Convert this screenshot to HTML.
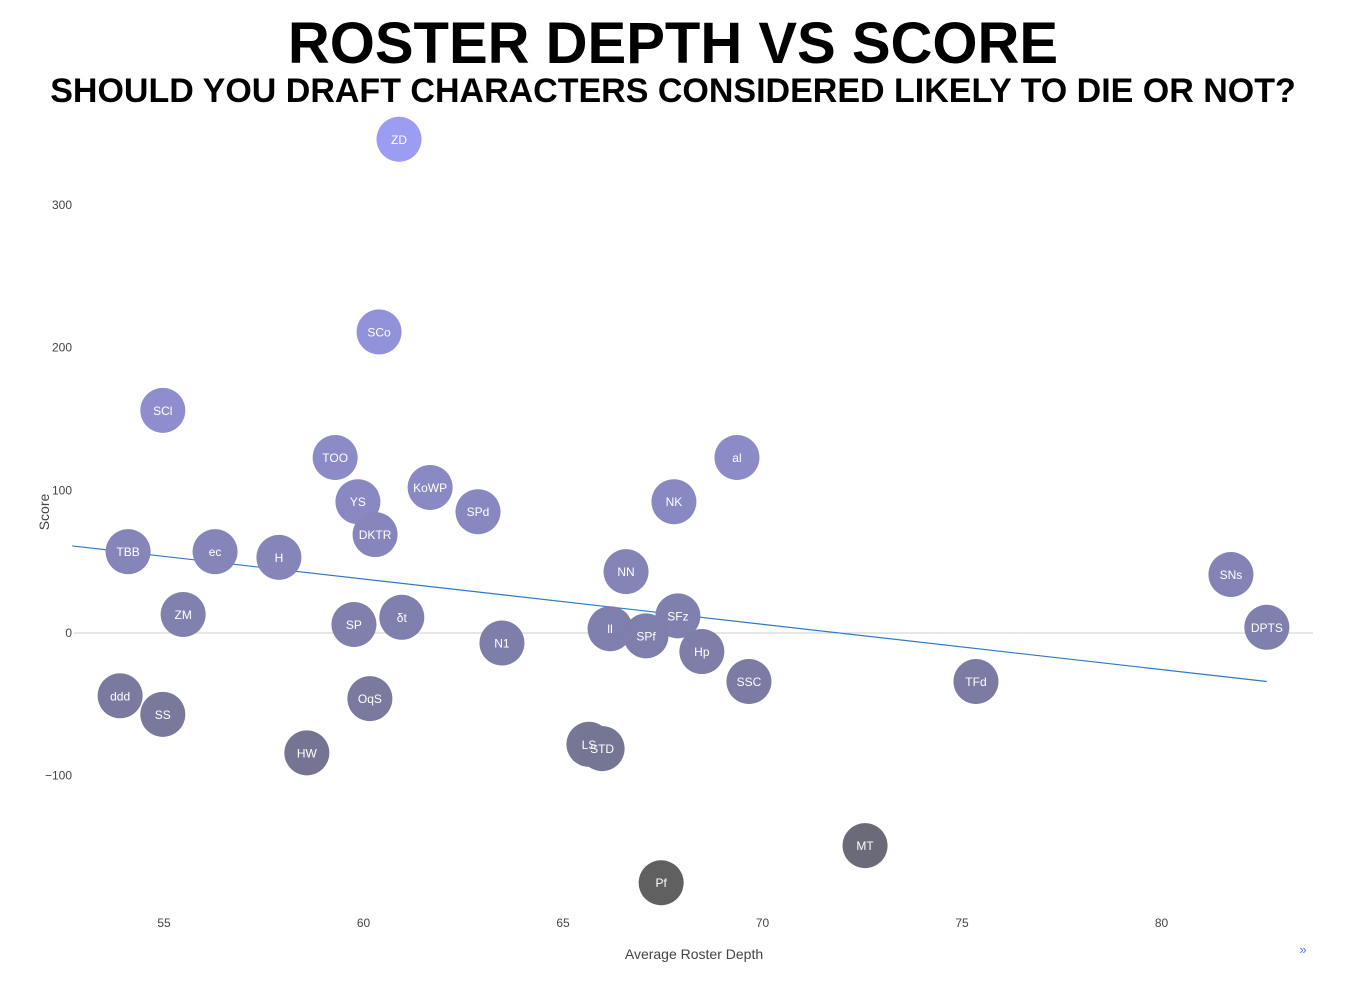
<!DOCTYPE html>
<html><head><meta charset="utf-8"><style>
body{margin:0;background:#fff;font-family:"Liberation Sans",sans-serif}
</style></head><body>
<svg id="chart" width="1346" height="977" xmlns="http://www.w3.org/2000/svg" font-family="Liberation Sans, DejaVu Sans, sans-serif">
<text x="673" y="63" text-anchor="middle" font-size="58" font-weight="bold" fill="#000">ROSTER DEPTH VS SCORE</text>
<text x="673" y="102" text-anchor="middle" font-size="34" font-weight="bold" fill="#000">SHOULD YOU DRAFT CHARACTERS CONSIDERED LIKELY TO DIE OR NOT?</text>
<text x="694" y="959" text-anchor="middle" font-size="14" fill="#444">Average Roster Depth</text>
<text x="49" y="512" text-anchor="middle" font-size="14" fill="#444" transform="rotate(-90 49 512)">Score</text>
<text x="1303" y="954" text-anchor="middle" font-size="13" fill="#447adb">»</text>
<g id="axes"></g><g id="trend"></g><g id="points"></g><g id="labels"></g>
</svg>
<script>
const labels=["ZD","SCo","SCl","TOO","YS","DKTR","KoWP","SPd","al","NK","TBB","ec","H","NN","SNs","ZM","SP","δt","N1","ll","SFz","SPf","Hp","DPTS","SSC","TFd","ddd","SS","OqS","HW","LS","STD","MT","Pf"];
const depth=[60.89,60.39,54.97,59.29,59.86,60.29,61.67,62.87,69.36,67.78,54.10,56.28,57.88,66.58,81.74,55.48,59.76,60.96,63.47,66.18,67.88,67.08,68.48,82.64,69.66,75.35,53.90,54.97,60.16,58.58,65.65,65.98,72.57,67.46];
const score=[346,211,156,123,92,69,102,85,123,92,57,57,53,43,41,13,6,11,-7,3,12,-2,-13,4,-34,-34,-44,-57,-46,-84,-78,-81,-149,-175];
const xTicks=[55,60,65,70,75,80];
const yTicks=[-100,0,100,200,300];
const yTickLabels=["−100","0","100","200","300"];
const trendX=[52.7,82.64];
const trendY=[61,-34];
const X=v=>164+(v-55)*39.9;
const Y=v=>633-v*1.427;
const NS="http://www.w3.org/2000/svg";
function mk(tag,attrs,parent,txt){const e=document.createElementNS(NS,tag);for(const k in attrs)e.setAttribute(k,attrs[k]);if(txt!==undefined)e.textContent=txt;parent.appendChild(e);return e;}
const ax=document.getElementById('axes');
const zl=mk('line',{x1:74,x2:1313,y1:Y(0),y2:Y(0),stroke:'#ccc','stroke-width':1},ax);


xTicks.forEach(t=>{const e=mk('text',{x:X(t),y:927,'text-anchor':'middle','font-size':12,fill:'#444'},ax,String(t));

});
yTicks.forEach((t,i)=>{const e=mk('text',{x:72,y:Y(t)+4,'text-anchor':'end','font-size':12,fill:'#444'},ax,yTickLabels[i]);

});
const tl=mk('line',{x1:X(trendX[0]),y1:Y(trendY[0]),x2:X(trendX[1]),y2:Y(trendY[1]),stroke:'#2f7ac4','stroke-width':1.2},document.getElementById('trend'));


const mn=Math.min(...score),mx=Math.max(...score);
const lo=[96,96,96],hi=[156,156,242];
const pg=document.getElementById('points');
const lg=document.getElementById('labels');
labels.forEach((l,i)=>{
 let f=(score[i]-mn)/(mx-mn);f=Math.pow(f,0.6);
 const c=lo.map((v,k)=>Math.round(v+(hi[k]-v)*f));
 const ci=mk('circle',{cx:X(depth[i]),cy:Y(score[i]),r:22.5,fill:`rgb(${c.join(',')})`},pg);
 
 
 const t=mk('text',{x:X(depth[i]),y:Y(score[i])+4.5,'text-anchor':'middle','font-size':12,fill:'#fff'},lg,l);
 
 
});
</script>
</body></html>
